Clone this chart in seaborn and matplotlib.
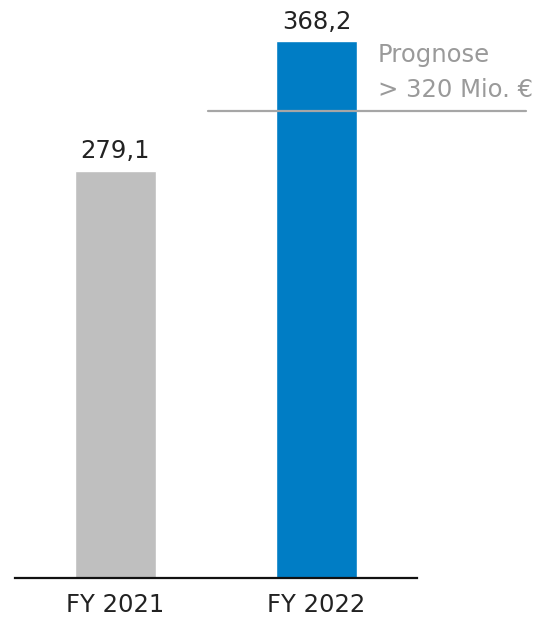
import matplotlib
matplotlib.use("Agg")
import matplotlib.pyplot as plt
import pandas as pd
import seaborn as sns

# Werte aus dem Bild
jahre = ["FY 2021", "FY 2022"]
umsatz = [279.1, 368.2]
beschriftung = ["279,1", "368,2"]
farben = ["#bfbfbf", "#007dc5"]
prognose_wert = 320
prognose_text = ["Prognose", "> 320 Mio. €"]


def main():
    sns.set_style("white")
    plt.rcParams["font.family"] = ["DejaVu Sans"]

    df = pd.DataFrame({"Jahr": jahre, "Umsatz": umsatz})

    fig = plt.figure(figsize=(5.44, 6.18), dpi=100)
    ax = fig.add_axes([15 / 544, 40 / 618, 402 / 544, 537 / 618])

    sns.barplot(data=df, x="Jahr", y="Umsatz", hue="Jahr", palette=farben,
                width=0.403, legend=False, ax=ax, saturation=1)

    ax.set_xlim(-0.5, 1.5)
    ax.set_ylim(0, 368.2)

    groesse = 17.5

    # Wertebeschriftung ueber den Balken
    for i, (wert, txt) in enumerate(zip(umsatz, beschriftung)):
        ax.annotate(txt, xy=(i, wert), xytext=(0, 9), textcoords="offset points",
                    ha="center", va="baseline", fontsize=groesse, color="#222222")

    # Prognose-Linie
    ax.plot([0.46, 2.04], [prognose_wert, prognose_wert], color="#a6a6a6",
            lw=1.6, clip_on=False, zorder=5)
    ax.annotate(prognose_text[0], xy=(1.306, prognose_wert), xytext=(0, 35.3),
                textcoords="offset points", va="baseline", ha="left",
                fontsize=groesse, color="#9a9a9a", annotation_clip=False)
    ax.annotate(prognose_text[1], xy=(1.306, prognose_wert), xytext=(0, 10.1),
                textcoords="offset points", va="baseline", ha="left",
                fontsize=groesse, color="#9a9a9a", annotation_clip=False)

    for s in ["top", "right", "left"]:
        ax.spines[s].set_visible(False)
    ax.spines["bottom"].set_color("#111111")
    ax.spines["bottom"].set_linewidth(1.6)

    ax.set_yticks([])
    ax.set_xlabel("")
    ax.set_ylabel("")
    ax.tick_params(axis="x", length=0, pad=10.5, labelsize=groesse, labelcolor="#222222")

    fig.savefig("out.png", dpi=100)
    plt.close(fig)


if __name__ == "__main__":
    main()
